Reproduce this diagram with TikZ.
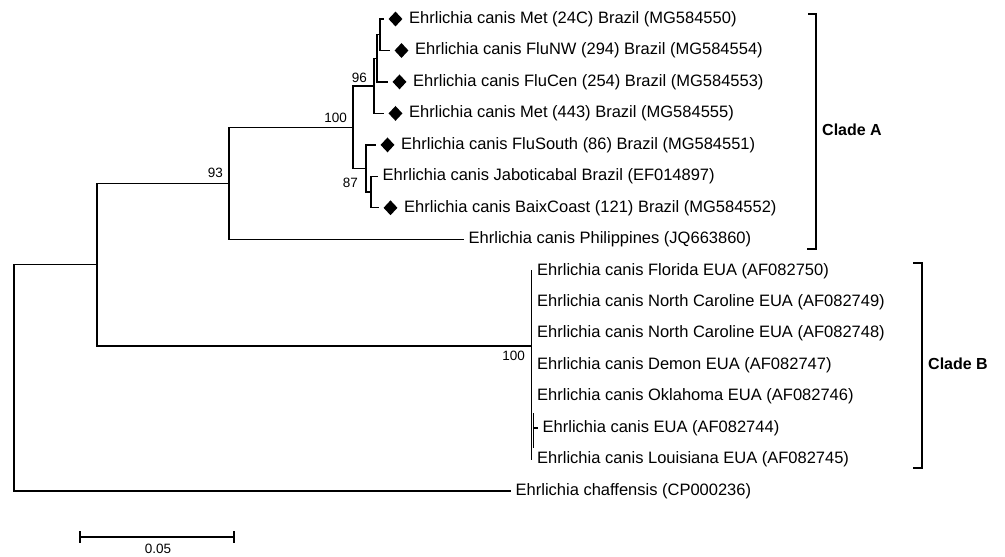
\documentclass[tikz,border=0pt]{standalone}
\usepackage{fontspec}
\setmainfont{Liberation Sans}
\usetikzlibrary{shapes.geometric, positioning}

\begin{document}
\begin{tikzpicture}[
    x=1pt, y=-1pt,
    branch/.style={line width=1.3pt, line cap=rect},
    taxon/.style={anchor=west, inner sep=0pt, font=\fontsize{16.5}{19}\selectfont},
    gem/.style={diamond, fill=black, inner sep=0pt, minimum width=14pt, minimum height=15pt},
    boot/.style={inner sep=0pt, font=\fontsize{13.5}{15}\selectfont},
    clade/.style={anchor=west, inner sep=0pt, font=\bfseries\fontsize{16}{19}\selectfont},
    brk/.style={line width=1.3pt},
]
\useasboundingbox (0,0) rectangle (1005,557);

% ===================== Tips with diamond (Brazil) =====================
\foreach \n/\x/\y/\txt in {a1/383/19/Met (24C) Brazil (MG584550),
                           a2/389/50.5/FluNW (294) Brazil (MG584554),
                           a3/387/81.9/FluCen (254) Brazil (MG584553),
                           a4/383/113.4/Met (443) Brazil (MG584555),
                           a5/375/144.9/FluSouth (86) Brazil (MG584551),
                           a7/378/207.8/BaixCoast (121) Brazil (MG584552)} {
    \coordinate (\n) at (\x,\y);
    \node[gem] (\n-d) at (\x+12.5,\y) {};
    \node[taxon] (\n-l) at (\x+26,\y) {Ehrlichia canis \txt};
}

% ===================== Plain tips =====================
\foreach \n/\x/\y/\txt in {a6/377/176.4/Ehrlichia canis Jaboticabal Brazil (EF014897),
                           a8/463/239.3/Ehrlichia canis Philippines (JQ663860),
                           b1/531.5/270.8/Ehrlichia canis Florida EUA (AF082750),
                           b2/531.5/302.2/Ehrlichia canis North Caroline EUA (AF082749),
                           b3/531.5/333.7/Ehrlichia canis North Caroline EUA (AF082748),
                           b4/531.5/365.2/Ehrlichia canis Demon EUA (AF082747),
                           b5/531.5/396.6/Ehrlichia canis Oklahoma EUA (AF082746),
                           b6/537/428.1/Ehrlichia canis EUA (AF082744),
                           b7/531.5/459.6/Ehrlichia canis Louisiana EUA (AF082745),
                           c1/510/491/Ehrlichia chaffensis (CP000236)} {
    \coordinate (\n) at (\x,\y);
    \node[taxon] (\n-l) at (\x+5.5,\y) {\txt};
}

% ===================== Internal nodes =====================
\coordinate (n1)   at (380,34.75);
\coordinate (n2)   at (377,58.3);
\coordinate (n96)  at (374,85.85);
\coordinate (n4)   at (371,192.1);
\coordinate (n87)  at (366,168.5);
\coordinate (n100) at (353,127.2);
\coordinate (n93)  at (229,183.25);
\coordinate (nB)   at (531.5,346);
\coordinate (nR)   at (97,264.6);
\coordinate (root) at (14,377.8);
\coordinate (s1)   at (533.5,414);
\coordinate (s2)   at (533.5,447);

% ===================== Clade A =====================
\draw[branch] (a1) -| (n1) |- (a2);
\draw[branch] (n1) -| (n2) |- (a3);
\draw[branch] (n2) -| (n96) |- (a4);
\draw[branch] (a6) -| (n4) |- (a7);
\draw[branch] (a5) -| (n87) |- (n4);
\draw[branch] (n96) -| (n100) |- (n87);
\draw[branch] (n100) -| (n93) |- (a8);

% ===================== Clade B =====================
\draw[branch] (b1) -| (nB) |- (b7);
\draw[branch] (s1) -- (s2);
\draw[branch] (s1 |- b6) -- (b6);

% ===================== Deep branches =====================
\draw[branch] (n93) -| (nR) |- (nB);
\draw[branch] (nR) -| (root) |- (c1);

% ===================== Bootstrap values =====================
\node[boot, anchor=south east] (bs96)  at ([xshift=-7pt, yshift=3pt]n96)  {96};
\node[boot, anchor=south east] (bs100) at ([xshift=-6pt, yshift=4pt]n100) {100};
\node[boot, anchor=north east] (bs87)  at ([xshift=-8pt, yshift=-9.5pt]n87) {87};
\node[boot, anchor=south east] (bs93)  at ([xshift=-6pt, yshift=5pt]n93)  {93};
\node[boot, anchor=north east] (bsB)   at ([xshift=-6.5pt, yshift=-5pt]nB) {100};

% ===================== Clade brackets =====================
\coordinate (kAt) at (816,14);
\coordinate (kAb) at (816,249);
\draw[brk] ([xshift=-8pt]kAt) -- (kAt) -- (kAb) -- ([xshift=-9pt]kAb);
\node[clade] (cA) at (822,130) {Clade A};

\coordinate (kBt) at (922,263);
\coordinate (kBb) at (922,468);
\draw[brk] ([xshift=-9pt]kBt) -- (kBt) -- (kBb) -- ([xshift=-9pt]kBb);
\node[clade] (cB) at (928,364) {Clade B};

% ===================== Scale bar =====================
\coordinate (sl) at (80,537);
\coordinate (sr) at (234,537);
\draw[branch] (sl) -- (sr);
\draw[branch] ([yshift=5pt]sl) -- ([yshift=-5pt]sl);
\draw[branch] ([yshift=5pt]sr) -- ([yshift=-5pt]sr);
\node[boot] (sc) at (158,549) {0.05};

\end{tikzpicture}
\end{document}
